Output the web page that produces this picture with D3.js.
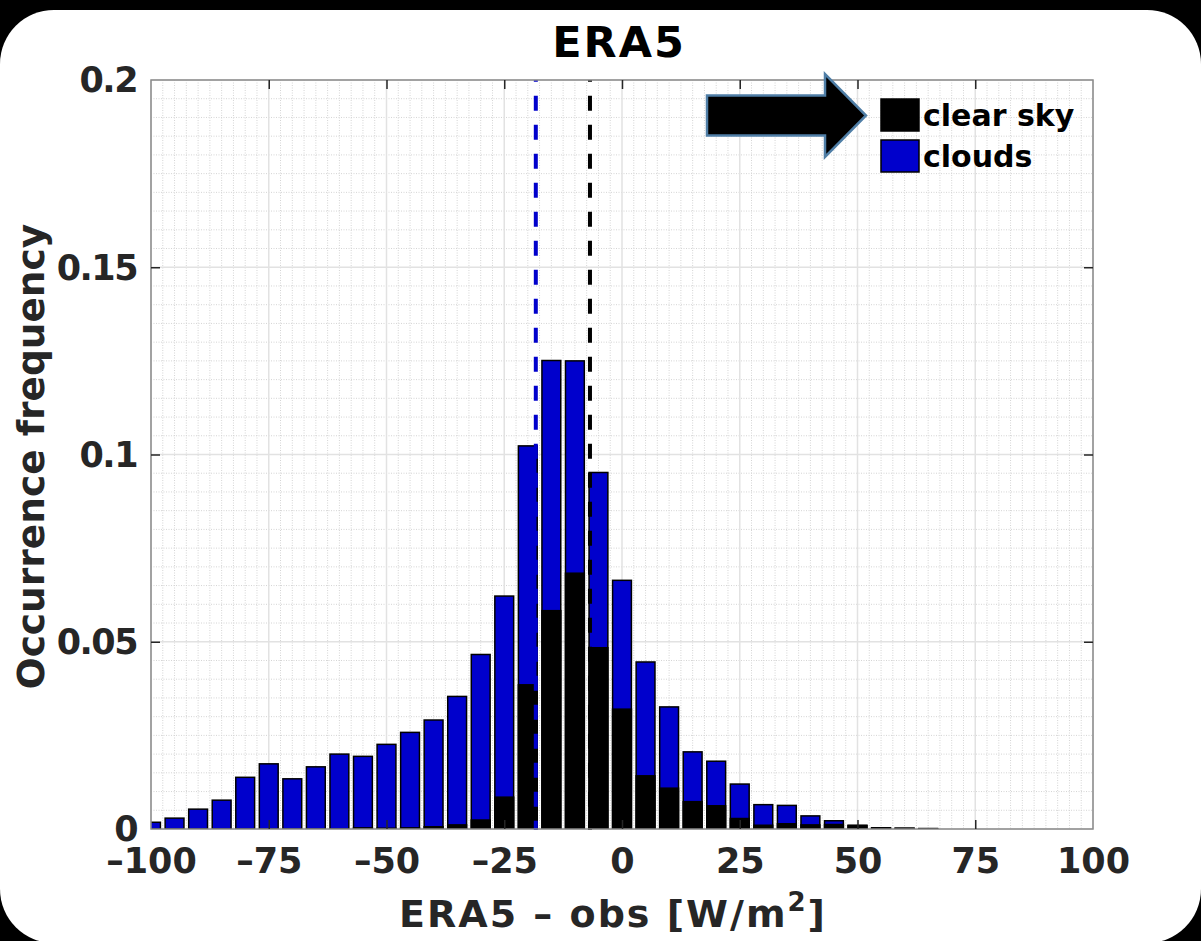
<!DOCTYPE html>
<html><head><meta charset="utf-8">
<script src="https://cdn.jsdelivr.net/npm/d3@7"></script>
<style>body{margin:0;background:#000;} svg{display:block}</style>
</head><body>
<svg id="c" width="1201" height="941"></svg>
<script>
// ---- data ----
const binCenters = [-100,-95,-90,-85,-80,-75,-70,-65,-60,-55,-50,-45,-40,-35,-30,-25,-20,-15,-10,-5,0,5,10,15,20,25,30,35,40,45,50,55,60,65];
const clouds   = [0.0018,0.0029,0.0053,0.0077,0.0138,0.0174,0.0134,0.0166,0.0200,0.0194,0.0226,0.0258,0.0291,0.0354,0.0466,0.0622,0.1023,0.1251,0.1250,0.0952,0.0664,0.0446,0.0326,0.0206,0.0181,0.0120,0.0065,0.0063,0.0035,0.0022,0.0010,0.0003,0.0002,0.0001];
const clearSky = [0,0,0,0,0,0,0,0,0,0.0003,0.0002,0.0003,0.0006,0.0011,0.0024,0.0085,0.0385,0.0583,0.0683,0.0484,0.0320,0.0142,0.0109,0.0073,0.0062,0.0028,0.0010,0.0014,0.0011,0.0012,0.0009,0.0003,0.0002,0.0001];
const meanValues = [-18.3, -6.8];          // clouds mean, clear-sky mean
const seriesNames = ["clear sky", "clouds"];
const seriesColors = ["#000000", "#0000cc"];
const xTickValues = [-100,-75,-50,-25,0,25,50,75,100];
const xTickLabels = ["–100","–75","–50","–25","0","25","50","75","100"];
const yTickValues = [0,0.05,0.1,0.15,0.2];
const yTickLabels = ["0","0.05","0.1","0.15","0.2"];
const titleText = "ERA5";
const yLabelText = "Occurrence frequency";
const binWidth = 5, barFrac = 0.8;

// ---- layout ----
const W = 1201, H = 941;
const L = 151, R = 1093, T = 80, B = 829;
const svg = d3.select("#c");
const font = "'DejaVu Sans', sans-serif";
const ink = "#262626";

svg.append("rect").attr("x",0).attr("y",0).attr("width",W).attr("height",H).attr("fill","#000");
svg.append("rect").attr("x",0).attr("y",10).attr("width",W).attr("height",H-10+2).attr("rx",54).attr("ry",54).attr("fill","#fff");

const x = d3.scaleLinear().domain([-100,100]).range([L,R]);
const y = d3.scaleLinear().domain([0,0.2]).range([B,T]);

svg.append("defs").append("clipPath").attr("id","pc")
  .append("rect").attr("x",L).attr("y",T).attr("width",R-L).attr("height",B-T);

// grid
const g = svg.append("g");
const minorX = d3.range(-100,100.01,2.5).filter(v => !xTickValues.includes(v));
const minorY = d3.range(0,0.2001,0.005).filter(v => !yTickValues.some(t=>Math.abs(t-v)<1e-9));
g.selectAll(".mx").data(minorX).join("line")
  .attr("x1",d=>x(d)).attr("x2",d=>x(d)).attr("y1",T).attr("y2",B)
  .attr("stroke","#d4d4d4").attr("stroke-width",1).attr("stroke-dasharray","1,1.5");
g.selectAll(".my").data(minorY).join("line")
  .attr("y1",d=>y(d)).attr("y2",d=>y(d)).attr("x1",L).attr("x2",R)
  .attr("stroke","#d4d4d4").attr("stroke-width",1).attr("stroke-dasharray","1,1.5");
g.selectAll(".Mx").data(xTickValues).join("line")
  .attr("x1",d=>x(d)).attr("x2",d=>x(d)).attr("y1",T).attr("y2",B)
  .attr("stroke","#e2e2e2").attr("stroke-width",1.5);
g.selectAll(".My").data(yTickValues).join("line")
  .attr("y1",d=>y(d)).attr("y2",d=>y(d)).attr("x1",L).attr("x2",R)
  .attr("stroke","#e2e2e2").attr("stroke-width",1.5);

// bars
const bw = binWidth*barFrac;
const bars = svg.append("g").attr("clip-path","url(#pc)");
const cloudData = binCenters.map((c,i)=>({c, v:clouds[i]})).filter(d=>d.v>0);
const clearData = binCenters.map((c,i)=>({c, v:clearSky[i]})).filter(d=>d.v>0);
bars.selectAll(".cb").data(cloudData).join("rect")
  .attr("x",d=>x(d.c-bw/2)).attr("width",d=>x(d.c+bw/2)-x(d.c-bw/2))
  .attr("y",d=>y(d.v)).attr("height",d=>y(0)-y(d.v))
  .attr("fill",seriesColors[1]).attr("stroke","#000").attr("stroke-width",1.5);
bars.selectAll(".kb").data(clearData).join("rect")
  .attr("x",d=>x(d.c-bw/2)).attr("width",d=>x(d.c+bw/2)-x(d.c-bw/2))
  .attr("y",d=>y(d.v)).attr("height",d=>y(0)-y(d.v))
  .attr("fill",seriesColors[0]).attr("stroke","#000").attr("stroke-width",1.5);

// mean lines
const meanColors = [seriesColors[1], seriesColors[0]];
svg.selectAll(".ml").data(meanValues).join("line")
  .attr("x1",d=>x(d)).attr("x2",d=>x(d)).attr("y1",T).attr("y2",B+1)
  .attr("stroke",(d,i)=>meanColors[i]).attr("stroke-width",4)
  .attr("stroke-dasharray","15,14").attr("stroke-dashoffset",13.3);

// box
svg.append("rect").attr("x",L).attr("y",T).attr("width",R-L).attr("height",B-T)
  .attr("fill","none").attr("stroke","#8a8a8a").attr("stroke-width",1.5);

// axes
const xa = svg.append("g").attr("transform",`translate(0,${B})`)
  .call(d3.axisBottom(x).tickValues(xTickValues).tickFormat((d,i)=>xTickLabels[i]).tickSizeInner(-9).tickSizeOuter(0).tickPadding(19));
const xt = svg.append("g").attr("transform",`translate(0,${T})`)
  .call(d3.axisTop(x).tickValues(xTickValues).tickFormat("").tickSizeInner(-9).tickSizeOuter(0));
const ya = svg.append("g").attr("transform",`translate(${L},0)`)
  .call(d3.axisLeft(y).tickValues(yTickValues).tickFormat((d,i)=>yTickLabels[i]).tickSizeInner(-9).tickSizeOuter(0).tickPadding(14));
const yr = svg.append("g").attr("transform",`translate(${R},0)`)
  .call(d3.axisRight(y).tickValues(yTickValues).tickFormat("").tickSizeInner(-9).tickSizeOuter(0));
[xa,xt,ya,yr].forEach(a=>{
  a.select(".domain").remove();
  a.selectAll(".tick line").attr("stroke",ink).attr("stroke-width",1.5);
  a.selectAll("text").attr("fill",ink).attr("font-family",font).attr("font-weight","bold").attr("font-size",35);
});
[xa,xt].forEach(a=>a.selectAll(".tick").filter(d=>d===-100||d===100).select("line").remove());
[ya,yr].forEach(a=>a.selectAll(".tick").filter(d=>d===0||d===0.2).select("line").remove());
xa.selectAll("text").attr("dy","0.72em");
ya.selectAll("text").attr("dy","0.34em").attr("letter-spacing",-1.5);

// title
svg.append("text").attr("x",619).attr("y",57).attr("text-anchor","middle")
  .attr("font-family",font).attr("font-weight","bold").attr("font-size",43).attr("letter-spacing",2)
  .attr("fill","#000").text(titleText);

// y label
svg.append("text").attr("transform",`translate(44,${(T+B)/2+2}) rotate(-90)`).attr("text-anchor","middle")
  .attr("font-family",font).attr("font-weight","bold").attr("font-size",37.5).attr("fill",ink).text(yLabelText);

// x label
const xl = svg.append("text").attr("x",613).attr("y",927).attr("text-anchor","middle")
  .attr("font-family",font).attr("font-weight","bold").attr("font-size",38).attr("letter-spacing",2).attr("fill",ink);
xl.append("tspan").text("ERA5 – obs [W/m");
xl.append("tspan").attr("font-size",26).attr("dy",-16).text("2");
xl.append("tspan").attr("dy",16).text("]");

// legend
const lg = svg.append("g").attr("transform","translate(707,115)");
lg.append("path")
  .attr("d","M0,-19.5 L118,-19.5 L118,-41 L159,0.5 L118,42 L118,20.5 L0,20.5 Z")
  .attr("fill","#000").attr("stroke","#4f7ea6").attr("stroke-width",2.5).attr("stroke-linejoin","miter");
const items = lg.selectAll(".li").data(seriesNames).join("g")
  .attr("transform",(d,i)=>`translate(174,${-16+i*41})`);
items.append("rect").attr("width",38).attr("height",32).attr("fill",(d,i)=>seriesColors[i]).attr("stroke","#000").attr("stroke-width",1.5);
items.append("text").attr("x",42).attr("y",27).attr("font-family",font).attr("font-weight","bold").attr("font-size",30).attr("fill","#000").text(d=>d);
</script>
</body></html>
